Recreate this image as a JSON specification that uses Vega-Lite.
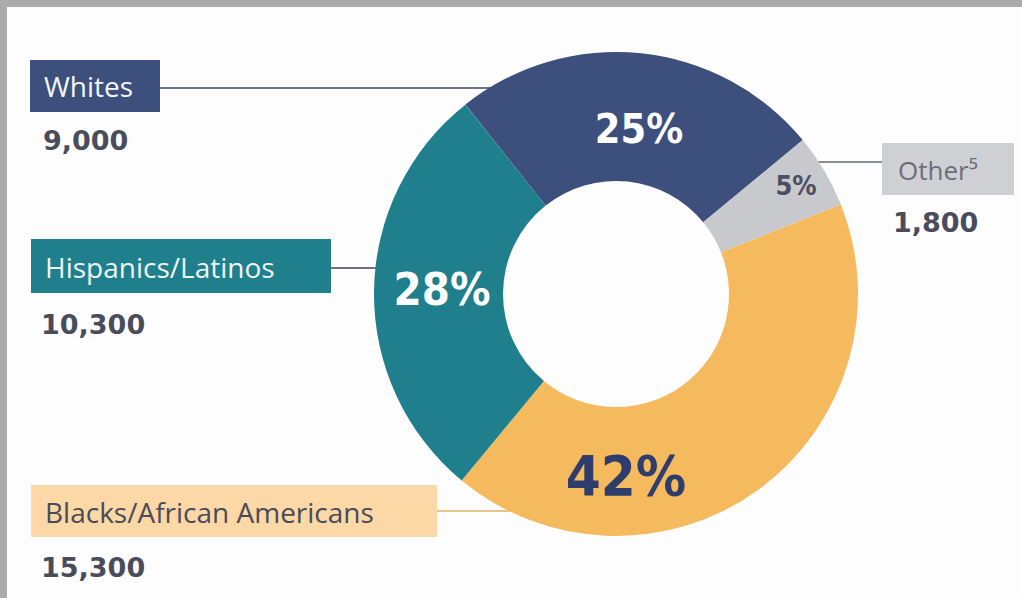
{
  "$schema": "https://vega.github.io/schema/vega-lite/v6.json",
  "width": 1015,
  "height": 591,
  "autosize": {"type": "none"},
  "padding": {"left": 7, "top": 7, "right": 0, "bottom": 0},
  "background": "#ababab",
  "view": {"fill": "#fdfdfd", "stroke": null},
  "config": {"view": {"fill": "#fdfdfd", "stroke": null}},
  "data": {
    "values": [
      {"order": 1, "group": "Whites", "name": "Whites", "count": 9000, "pct": "25%"},
      {"order": 2, "group": "Other", "name": "Other⁵", "count": 1800, "pct": "5%"},
      {"order": 3, "group": "Blacks/African Americans", "name": "Blacks/African Americans", "count": 15300, "pct": "42%"},
      {"order": 4, "group": "Hispanics/Latinos", "name": "Hispanics/Latinos", "count": 10300, "pct": "28%"}
    ]
  },
  "resolve": {"scale": {"x": "independent", "y": "independent", "color": "independent", "size": "independent"}},
  "layer": [
    {
      "transform": [{"filter": "datum.order == 1"}],
      "mark": {"type": "rect", "width": 480, "height": 2, "align": "left", "baseline": "middle", "color": "#6f7280"},
      "encoding": {
        "x": {"field": "order", "type": "quantitative", "axis": null, "scale": {"domain": [1, 2, 3, 4], "range": [23, 875, 24, 24], "zero": false, "nice": false}},
        "y": {"field": "order", "type": "quantitative", "axis": null, "scale": {"domain": [1, 2, 3, 4], "range": [81, 155, 504, 261], "zero": false, "nice": false}}
      }
    },
    {
      "transform": [{"filter": "datum.order == 2"}],
      "mark": {"type": "rect", "width": 95, "height": 2, "align": "right", "baseline": "middle", "color": "#8a8c96"},
      "encoding": {
        "x": {"field": "order", "type": "quantitative", "axis": null, "scale": {"domain": [1, 2, 3, 4], "range": [23, 875, 24, 24], "zero": false, "nice": false}},
        "y": {"field": "order", "type": "quantitative", "axis": null, "scale": {"domain": [1, 2, 3, 4], "range": [81, 155, 504, 261], "zero": false, "nice": false}}
      }
    },
    {
      "transform": [{"filter": "datum.order == 3"}],
      "mark": {"type": "rect", "width": 510, "height": 2, "align": "left", "baseline": "middle", "color": "#e9c48a"},
      "encoding": {
        "x": {"field": "order", "type": "quantitative", "axis": null, "scale": {"domain": [1, 2, 3, 4], "range": [23, 875, 24, 24], "zero": false, "nice": false}},
        "y": {"field": "order", "type": "quantitative", "axis": null, "scale": {"domain": [1, 2, 3, 4], "range": [81, 155, 504, 261], "zero": false, "nice": false}}
      }
    },
    {
      "transform": [{"filter": "datum.order == 4"}],
      "mark": {"type": "rect", "width": 400, "height": 2, "align": "left", "baseline": "middle", "color": "#6f7280"},
      "encoding": {
        "x": {"field": "order", "type": "quantitative", "axis": null, "scale": {"domain": [1, 2, 3, 4], "range": [23, 875, 24, 24], "zero": false, "nice": false}},
        "y": {"field": "order", "type": "quantitative", "axis": null, "scale": {"domain": [1, 2, 3, 4], "range": [81, 155, 504, 261], "zero": false, "nice": false}}
      }
    },
    {
      "transform": [{"filter": "datum.order == 1"}],
      "mark": {"type": "rect", "width": 130, "height": 52, "align": "left", "baseline": "middle", "color": "#3d4f7c"},
      "encoding": {
        "x": {"field": "order", "type": "quantitative", "axis": null, "scale": {"domain": [1, 2, 3, 4], "range": [23, 875, 24, 24], "zero": false, "nice": false}},
        "y": {"field": "order", "type": "quantitative", "axis": null, "scale": {"domain": [1, 2, 3, 4], "range": [79, 162, 504, 259], "zero": false, "nice": false}}
      }
    },
    {
      "transform": [{"filter": "datum.order == 2"}],
      "mark": {"type": "rect", "width": 132, "height": 52, "align": "left", "baseline": "middle", "color": "#cfd0d3"},
      "encoding": {
        "x": {"field": "order", "type": "quantitative", "axis": null, "scale": {"domain": [1, 2, 3, 4], "range": [23, 875, 24, 24], "zero": false, "nice": false}},
        "y": {"field": "order", "type": "quantitative", "axis": null, "scale": {"domain": [1, 2, 3, 4], "range": [79, 162, 504, 259], "zero": false, "nice": false}}
      }
    },
    {
      "transform": [{"filter": "datum.order == 3"}],
      "mark": {"type": "rect", "width": 406, "height": 52, "align": "left", "baseline": "middle", "color": "#fcd8a6"},
      "encoding": {
        "x": {"field": "order", "type": "quantitative", "axis": null, "scale": {"domain": [1, 2, 3, 4], "range": [23, 875, 24, 24], "zero": false, "nice": false}},
        "y": {"field": "order", "type": "quantitative", "axis": null, "scale": {"domain": [1, 2, 3, 4], "range": [79, 162, 504, 259], "zero": false, "nice": false}}
      }
    },
    {
      "transform": [{"filter": "datum.order == 4"}],
      "mark": {"type": "rect", "width": 300, "height": 54, "align": "left", "baseline": "middle", "color": "#1f7f8c"},
      "encoding": {
        "x": {"field": "order", "type": "quantitative", "axis": null, "scale": {"domain": [1, 2, 3, 4], "range": [23, 875, 24, 24], "zero": false, "nice": false}},
        "y": {"field": "order", "type": "quantitative", "axis": null, "scale": {"domain": [1, 2, 3, 4], "range": [79, 162, 504, 259], "zero": false, "nice": false}}
      }
    },
    {
      "mark": {"type": "arc", "outerRadius": 242, "innerRadius": 113, "x": 609, "y": 287},
      "encoding": {
        "theta": {"field": "count", "type": "quantitative", "stack": true, "scale": {"range": [-0.672, 5.611]}},
        "order": {"field": "order", "type": "quantitative"},
        "color": {"field": "group", "type": "nominal", "legend": null,
          "scale": {"domain": ["Whites", "Other", "Blacks/African Americans", "Hispanics/Latinos"], "range": ["#3d4f7c", "#c7c9cc", "#f6ba5e", "#1f7f8c"]}}
      }
    },
    {
      "mark": {"type": "text", "font": "DejaVu Sans Condensed, sans-serif", "fontWeight": "bold", "align": "center", "baseline": "alphabetic"},
      "encoding": {
        "x": {"field": "order", "type": "quantitative", "axis": null, "scale": {"domain": [1, 2, 3, 4], "range": [632, 789, 619, 435], "zero": false, "nice": false}},
        "y": {"field": "order", "type": "quantitative", "axis": null, "scale": {"domain": [1, 2, 3, 4], "range": [136, 188, 488, 298], "zero": false, "nice": false}},
        "text": {"field": "pct"},
        "size": {"field": "order", "type": "quantitative", "legend": null, "scale": {"domain": [1, 2, 3, 4], "range": [41, 27, 56, 45], "zero": false, "nice": false}},
        "color": {"field": "group", "type": "nominal", "legend": null,
          "scale": {"domain": ["Whites", "Other", "Blacks/African Americans", "Hispanics/Latinos"], "range": ["#ffffff", "#4b4f62", "#2f3d6c", "#ffffff"]}}
      }
    },
    {
      "mark": {"type": "text", "font": "Open Sans", "align": "left", "baseline": "alphabetic"},
      "encoding": {
        "x": {"field": "order", "type": "quantitative", "axis": null, "scale": {"domain": [1, 2, 3, 4], "range": [37, 891, 38, 38], "zero": false, "nice": false}},
        "y": {"field": "order", "type": "quantitative", "axis": null, "scale": {"domain": [1, 2, 3, 4], "range": [90, 173, 516, 271], "zero": false, "nice": false}},
        "text": {"field": "name"},
        "size": {"field": "order", "type": "quantitative", "legend": null, "scale": {"domain": [1, 2, 3, 4], "range": [28, 26, 28, 28], "zero": false, "nice": false}},
        "color": {"field": "group", "type": "nominal", "legend": null,
          "scale": {"domain": ["Whites", "Other", "Blacks/African Americans", "Hispanics/Latinos"], "range": ["#f3f5f8", "#6b6e79", "#4a4b59", "#eef6f7"]}}
      }
    },
    {
      "mark": {"type": "text", "font": "DejaVu Sans", "fontWeight": "bold", "fontSize": 27, "align": "left", "baseline": "alphabetic", "color": "#4a4c5c"},
      "encoding": {
        "x": {"field": "order", "type": "quantitative", "axis": null, "scale": {"domain": [1, 2, 3, 4], "range": [36, 886, 34, 34], "zero": false, "nice": false}},
        "y": {"field": "order", "type": "quantitative", "axis": null, "scale": {"domain": [1, 2, 3, 4], "range": [143, 225, 570, 327], "zero": false, "nice": false}},
        "text": {"field": "count", "type": "quantitative", "format": ","}
      }
    }
  ]
}
